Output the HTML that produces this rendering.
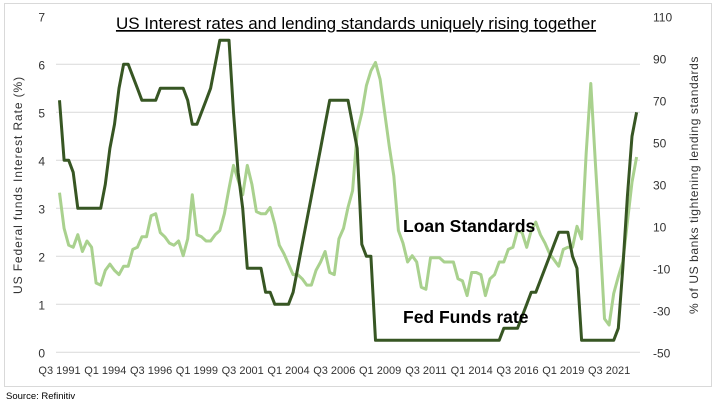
<!DOCTYPE html>
<html><head><meta charset="utf-8"><style>
body{margin:0;background:#fff;width:716px;height:406px;overflow:hidden;font-family:"Liberation Sans",sans-serif}
</style></head><body>
<svg id="c" width="716" height="406" xmlns="http://www.w3.org/2000/svg">
<rect x="4.5" y="3.5" width="707" height="383" fill="#fff" stroke="#d9d9d9"/>
<text x="356" y="29" text-anchor="middle" font-size="17" text-decoration="underline" fill="#000">US Interest rates and lending standards uniquely rising together</text>
<g id="grid"></g><g id="yl"></g><g id="yr"></g><g id="xl"></g><g id="series"></g>
<text transform="translate(22,185) rotate(-90)" text-anchor="middle" font-size="12" letter-spacing="0.9" fill="#333">US Federal funds Interest Rate (%)</text>
<text transform="translate(698,185) rotate(-90)" text-anchor="middle" font-size="12" letter-spacing="0.6" fill="#333">% of US banks tightening lending standards</text>
<text x="403" y="232" font-size="17.5" font-weight="bold" fill="#000">Loan Standards</text>
<text x="403" y="323" font-size="17.5" font-weight="bold" fill="#000">Fed Funds rate</text>
<text x="6" y="399" font-size="9.5" fill="#000">Source: Refinitiv</text>
</svg>
<script>
const fedFunds=[5.25,4.0,
4.0,3.75,3.0,3.0, 3,3,3,3, 3.5,4.25,4.75,5.5, 6.0,6.0,5.75,5.5, 5.25,5.25,5.25,5.25,
5.5,5.5,5.5,5.5, 5.5,5.5,5.25,4.75, 4.75,5.0,5.25,5.5, 6.0,6.5,6.5,6.5, 5.0,3.75,3.0,1.75,
1.75,1.75,1.75,1.25, 1.25,1.0,1.0,1.0, 1.0,1.25,1.75,2.25, 2.75,3.25,3.75,4.25, 4.75,5.25,5.25,5.25,
5.25,5.25,4.75,4.25, 2.25,2.0,2.0,0.25,
0.25,0.25,0.25,0.25, 0.25,0.25,0.25,0.25, 0.25,0.25,0.25,0.25, 0.25,0.25,0.25,0.25, 0.25,0.25,0.25,0.25, 0.25,0.25,0.25,0.25,
0.25,0.25,0.25,0.5, 0.5,0.5,0.5,0.75, 1.0,1.25,1.25,1.5, 1.75,2.0,2.25,2.5, 2.5,2.5,2.0,1.75,
0.25,0.25,0.25,0.25, 0.25,0.25,0.25,0.25, 0.5,1.75,3.25,4.5, 5.0];
const loanStandards=[26,9,1,0,6,-2,3,0,-17,-18,
-11,-8,-11,-13,-9,-9,-1,0,5,5,
15,16,7,5,2,1,3,-4,4,25,
6,5,3,3,6,8,16,28,39,32,
25,39,30,17,16,16,19,11,1,-3,
-8,-13,-13,-15,-18,-18,-11,-7,-2,-12,
-13,4,9,19,27,55,64,77,84,88,
80,64,48,34,8,2,-7,-4,-7,-19,
-20,-5,-5,-5,-7,-7,-7,-15,-16,-23,
-12,-12,-13,-23,-15,-13,-7,-7,-1,0,
8,7,0,8,12,6,2,-3,-6,-9,
-1,0,0,10,4,45,78,40,5,-34,
-37,-22,-14,-7,12,31,43];
const leftTicks=[0,1,2,3,4,5,6,7];
const rightTicks=[-50,-30,-10,10,30,50,70,90,110];
const xLabels=["Q3 1991","Q1 1994","Q3 1996","Q1 1999","Q3 2001","Q1 2004","Q3 2006","Q1 2009","Q3 2011","Q1 2014","Q3 2016","Q1 2019","Q3 2021"];
const NS="http://www.w3.org/2000/svg";
const plotTop=16.3,plotBot=352.3,x0=59.5,step=4.58;
const yL=v=>plotBot-(v/7)*(plotBot-plotTop);
const yR=v=>plotBot-((v+50)/160)*(plotBot-plotTop);
const xI=i=>x0+i*step;
function mk(t,a,p){const e=document.createElementNS(NS,t);for(const k in a)e.setAttribute(k,a[k]);document.getElementById(p).appendChild(e);return e;}
leftTicks.forEach(v=>{
  if(v>0&&v<7){const g=mk('line',{x1:56,x2:640,y1:yL(v),y2:yL(v),stroke:'#d9d9d9','stroke-width':1},'grid');
  
  }
  const t=mk('text',{x:45,y:yL(v)+5,'font-size':12,'text-anchor':'end',fill:'#333'},'yl');t.textContent=v;
  
  
});
const base=mk('line',{x1:56,x2:640,y1:plotBot,y2:plotBot,stroke:'#d9d9d9','stroke-width':1},'grid');


rightTicks.forEach(v=>{
  const t=mk('text',{x:653,y:yR(v)+5,'font-size':12,fill:'#333'},'yr');t.textContent=v;
  
  
});
xLabels.forEach((s,k)=>{
  const t=mk('text',{x:xI(k*10),y:374,'font-size':11,'text-anchor':'middle',fill:'#333'},'xl');t.textContent=s;
  
  
});
const lp=mk('polyline',{points:loanStandards.map((v,i)=>xI(i).toFixed(1)+','+yR(v).toFixed(1)).join(' '),fill:'none',stroke:'#a9d18e','stroke-width':3,'stroke-linejoin':'round'},'series');


const fp=mk('polyline',{points:fedFunds.map((v,i)=>xI(i).toFixed(1)+','+yL(v).toFixed(1)).join(' '),fill:'none',stroke:'#375623','stroke-width':3,'stroke-linejoin':'round'},'series');


</script>
</body></html>
